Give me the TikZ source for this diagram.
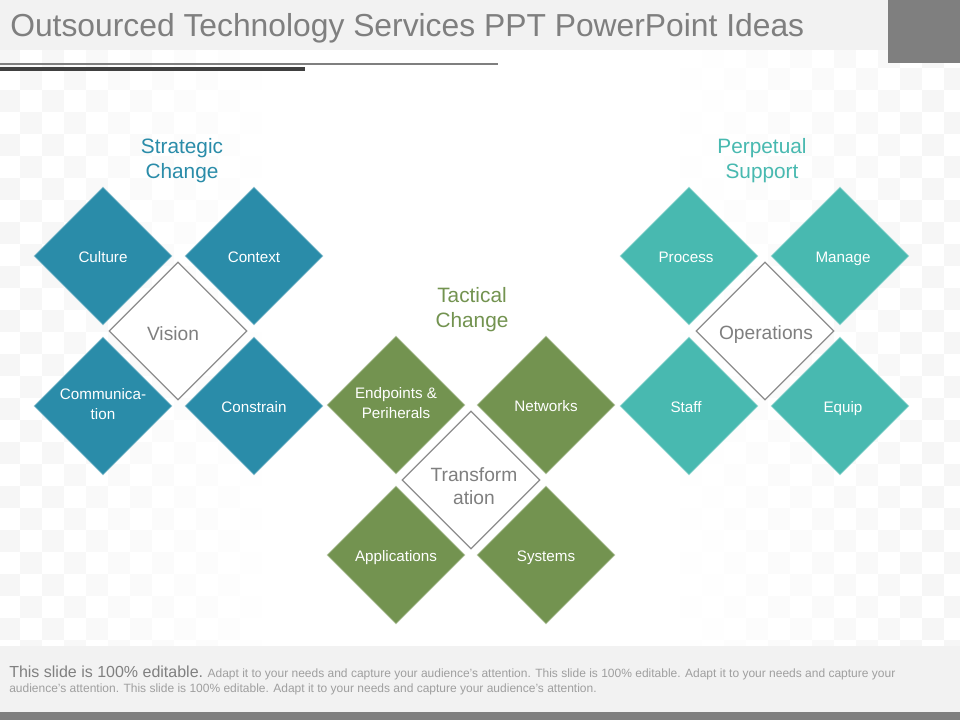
\documentclass[tikz,border=0pt]{standalone}
\usepackage{fontspec}
\setmainfont{Liberation Sans}
\usetikzlibrary{shapes.geometric}
\definecolor{bluefill}{HTML}{2A8CA9}
\definecolor{greenfill}{HTML}{739350}
\definecolor{tealfill}{HTML}{48B9B0}
\definecolor{greytext}{HTML}{7F7F7F}
\definecolor{bandfill}{HTML}{F2F2F2}
\tikzset{
  petal/.style={diamond, aspect=1, inner sep=0pt, minimum width=103.5pt, minimum height=103.5pt, align=center, text=white, line width=0.5pt, font=\fontsize{11.4}{14.8}\selectfont, execute at begin node=\rule{0pt}{12.4pt}, execute at end node=\rule[-3pt]{0pt}{3pt}},
  hub/.style={diamond, aspect=1, inner sep=0pt, minimum width=103.5pt, minimum height=103.5pt, draw=gray!90, line width=0.9pt, fill=white},
  hubtext/.style={align=center, inner sep=0pt, text=greytext, font=\fontsize{14.4}{17.25}\selectfont},
  heading/.style={align=center, font=\fontsize{15.6}{18.75}\selectfont}
}
\begin{document}
\begin{tikzpicture}[x=0.75pt, y=-0.75pt]
\useasboundingbox (0,0) rectangle (960,720);
\fill[white] (0,0) rectangle (960,720);
% checker background, fading to the middle
\foreach \i in {0,...,43} {
  \foreach \j in {-1,...,26} {
    \pgfmathsetmacro{\cellshade}{max(0,min(1,(abs(22*\i-469)-200)/260))*3.5*mod(\i+\j+2,2)}
    \fill[black!\cellshade] (22*\i-2,22*\j+68) rectangle ++(22,22);
  }
}
% title band
\fill[bandfill] (0,0) rectangle (888,50);
\fill[greytext] (888,0) rectangle (960,63);
\node[anchor=west, inner sep=0pt, text=greytext, font=\fontsize{23.86}{28}\selectfont] (title) at (10,28) {Outsourced Technology Services PPT PowerPoint Ideas};
\fill[greytext] (0,63) rectangle (498,65);
\fill[black!75] (0,67) rectangle (305,71);
% left group
\node[heading, text=bluefill] (strategic) at (182,161) {Strategic\\Change};
\node[petal, fill=bluefill, draw=bluefill!50] (culture) at (103,256) {Culture};
\node[petal, fill=bluefill, draw=bluefill!50] (context) at (254,256) {Context};
\node[petal, fill=bluefill, draw=bluefill!50] (communication) at (103,406) {Communica-\\tion};
\node[petal, fill=bluefill, draw=bluefill!50] (constrain) at (254,406) {Constrain};
\node[hub] (vision) at (178,331) {};
\node[hubtext] (visiontext) at (173,334) {Vision};
% middle group
\node[heading, text=greenfill] (tactical) at (472,310) {Tactical\\Change};
\node[petal, fill=greenfill, draw=greenfill!50] (endpoints) at (396,405) {Endpoints \&\\Periherals};
\node[petal, fill=greenfill, draw=greenfill!50] (networks) at (546,405) {Networks};
\node[petal, fill=greenfill, draw=greenfill!50] (applications) at (396,555) {Applications};
\node[petal, fill=greenfill, draw=greenfill!50] (systems) at (546,555) {Systems};
\node[hub] (transformation) at (471,480) {};
\node[hubtext] (transformationtext) at (474,486) {Transform\\ation};
% right group
\node[heading, text=tealfill] (perpetual) at (762,161) {Perpetual\\Support};
\node[petal, fill=tealfill, draw=tealfill!50] (process) at (689,256) {Process\hspace*{4.5pt}};
\node[petal, fill=tealfill, draw=tealfill!50] (manage) at (840,256) {\hspace*{4.5pt}Manage};
\node[petal, fill=tealfill, draw=tealfill!50] (staff) at (689,406) {Staff\hspace*{4.5pt}};
\node[petal, fill=tealfill, draw=tealfill!50] (equip) at (840,406) {\hspace*{4.5pt}Equip};
\node[hub] (operations) at (765,331) {};
\node[hubtext] (operationstext) at (766,335) {Operations};
% footer
\fill[bandfill] (0,646) rectangle (960,712);
\fill[greytext] (0,712) rectangle (960,720);
\node[anchor=west, inner sep=0pt, align=left, text=gray!75, font=\fontsize{9}{11.25}\selectfont] (note) at (9,680.5) {{\color{gray}\fontsize{12}{11.25}\selectfont This slide is 100\% editable.} Adapt it to your needs and capture your audience’s attention. This slide is 100\% editable. Adapt it to your needs and capture your\\audience’s attention. This slide is 100\% editable. Adapt it to your needs and capture your audience’s attention.};
\end{tikzpicture}
\end{document}
